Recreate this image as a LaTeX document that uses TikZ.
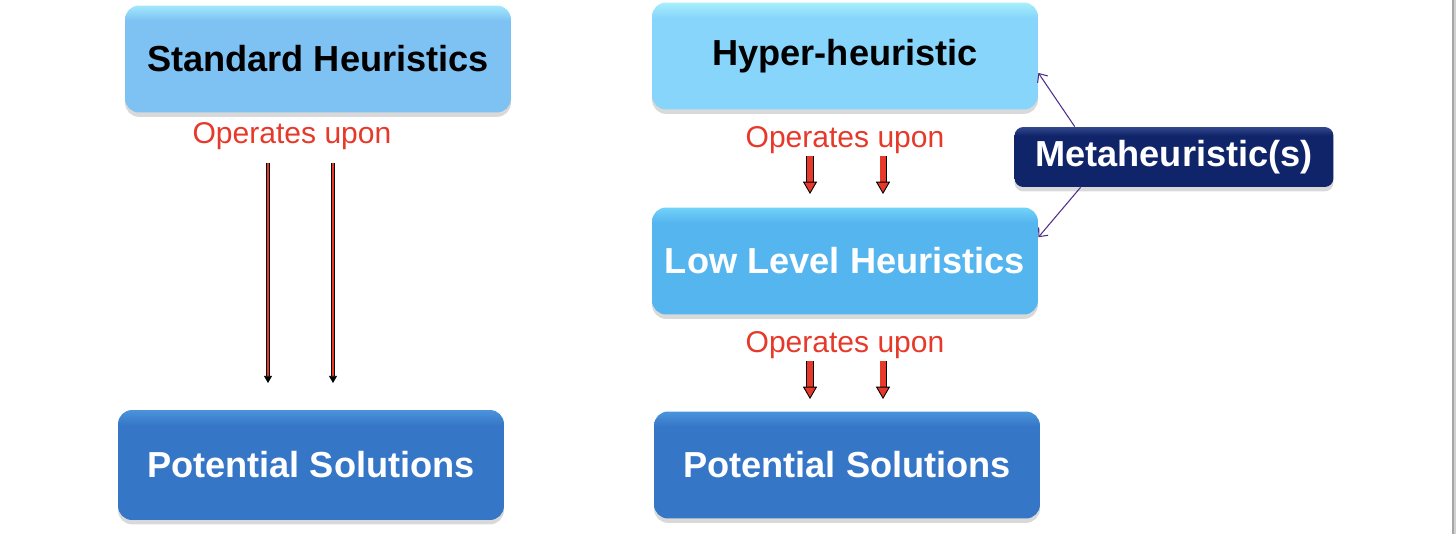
\documentclass[tikz,border=0pt]{standalone}
\usepackage{fontspec}
\setmainfont{Liberation Sans}
\usetikzlibrary{arrows.meta,shadows,calc}
\definecolor{shtop}{HTML}{A2E8FB}
\definecolor{shbot}{HTML}{7EC2F3}
\definecolor{hhtop}{HTML}{A8EFFC}
\definecolor{hhbot}{HTML}{87D5FA}
\definecolor{lltop}{HTML}{72D3F9}
\definecolor{llbot}{HTML}{55B5EF}
\definecolor{pstop}{HTML}{4A94DC}
\definecolor{psbot}{HTML}{3676C7}
\definecolor{mhtop}{HTML}{33488C}
\definecolor{mhbot}{HTML}{10246A}
\definecolor{opred}{HTML}{E6392A}
\definecolor{mhpurple}{HTML}{4F2D8B}
% glossy band along the top edge
\newcommand\glossshading[3]{\pgfdeclareverticalshading{#1}{100bp}{color(0bp)=(#3); color(68bp)=(#3); color(75bp)=(#2); color(100bp)=(#2)}}
\glossshading{shgloss}{shtop}{shbot}
\glossshading{hhgloss}{hhtop}{hhbot}
\glossshading{llgloss}{lltop}{llbot}
\glossshading{psgloss}{pstop}{psbot}
\glossshading{mhgloss}{mhtop}{mhbot}
\tikzset{>=Stealth,
	box/.style={rectangle,rounded corners=8pt,inner sep=0pt,minimum width=7.72cm,minimum height=2.14cm,
		font=\bfseries\fontsize{20.6}{24}\selectfont,shade,
		drop shadow={opacity=0.3,shadow xshift=0pt,shadow yshift=-2.5pt}},
	sbox/.style={box,shading=shgloss,text=black},
	hbox/.style={box,shading=hhgloss,text=black},
	lbox/.style={box,shading=llgloss,text=white},
	pbox/.style={box,shading=psgloss,text=white},
	mbox/.style={box,rounded corners=5pt,minimum width=6.38cm,minimum height=1.2cm,
		shading=mhgloss,text=white},
	oplabel/.style={inner sep=0pt,text=opred,font=\fontsize{17.1}{20}\selectfont},
	thinarrow/.style={draw=black,line width=0.4pt,double=opred,double distance=1.4pt,
		-{Triangle[length=4pt,width=4.5pt]}},
	fatarrow/.style={draw=black,line width=0.5pt,double=opred,double distance=3pt,
		-{Triangle[length=7pt,width=8pt,fill=opred]}},
	metaarrow/.style={draw=mhpurple,line width=0.6pt,-{Straight Barb[length=4pt,width=7pt]}}}
\begin{document}
\begin{tikzpicture}[x=0.02cm,y=-0.02cm]
	\useasboundingbox (0,0) rectangle (1456,534);
	% left column
	\node (SH) at (318,59) [sbox] {Standard Heuristics};
	\node (PSl) at (311,465) [pbox,minimum height=2.2cm] {Potential Solutions};
	\node (O1) at (292,136) [oplabel] {Operates upon};
	\coordinate (a1) at (268,163);
	\coordinate (b1) at (268,383);
	\coordinate (a2) at (333,163);
	\coordinate (b2) at (333,383);
	\draw [thinarrow] (a1) -- (b1);
	\draw [thinarrow] (a2) -- (b2);
	% right column
	\node (HH) at (845,56) [hbox] {Hyper-heuristic};
	\node (LL) at (845,261) [lbox] {Low Level Heuristics};
	\node (PSr) at (847,465) [pbox] {Potential Solutions};
	\node (MH) at (1174,157) [mbox] {Metaheuristic(s)};
	\node (O2) at (845,140) [oplabel] {Operates upon};
	\node (O3) at (845,345) [oplabel] {Operates upon};
	\coordinate (c1) at (810,156);
	\coordinate (d1) at (810,194);
	\coordinate (c2) at (883,156);
	\coordinate (d2) at (883,194);
	\coordinate (c3) at (810,361);
	\coordinate (d3) at (810,399);
	\coordinate (c4) at (883,361);
	\coordinate (d4) at (883,399);
	\draw [fatarrow] (c1) -- (d1);
	\draw [fatarrow] (c2) -- (d2);
	\draw [fatarrow] (c3) -- (d3);
	\draw [fatarrow] (c4) -- (d4);
	\draw [metaarrow] (MH.163) -- (HH.-5);
	\draw [metaarrow] (MH.198) -- (LL.7);
	% slide edge
	\fill [black!35] (1452,0) rectangle (1454,534);
	\fill [black!18] (1454,0) rectangle (1456,534);
\end{tikzpicture}
\end{document}
